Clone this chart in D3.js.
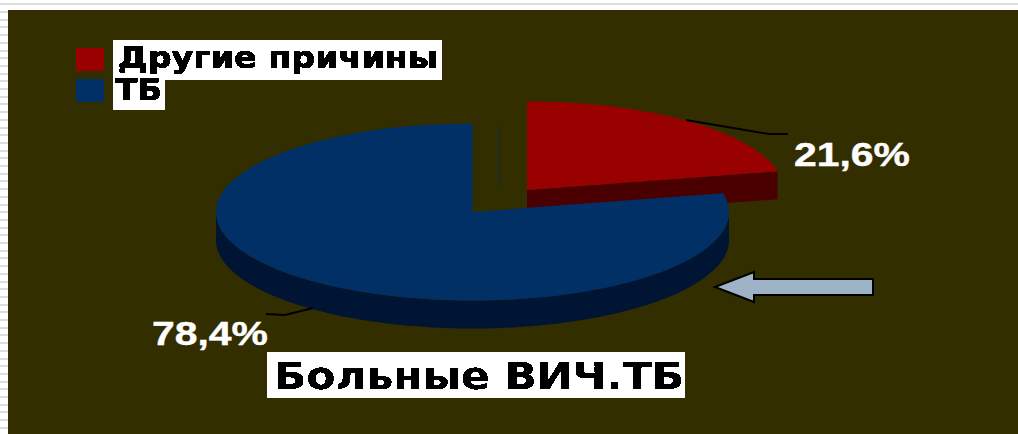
<!DOCTYPE html>
<html>
<head>
<meta charset="utf-8">
<script src="https://cdn.jsdelivr.net/npm/d3@7"></script>
<style>
html,body{margin:0;padding:0;background:#fff;}
svg{display:block;}
</style>
</head>
<body>
<svg id="chart" width="1018" height="434"></svg>
<script>
// Shares of deaths among HIV/TB patients
const categories = ["Другие причины", "ТБ"];
const shares = [21.6, 78.4];
const shareLabels = ["21,6%", "78,4%"];
const chartTitle = "Больные ВИЧ.ТБ";
const topColors = ["#990000", "#003066"];
const sideColors = ["#4a0000", "#001433"];

const svg = d3.select("#chart");
const W = 1018, H = 434;

// Slide frame: striped left margin and thin rule along the top
const defs = svg.append("defs");
const thresh = defs.append("filter").attr("id", "hard").attr("x", 0).attr("y", 0).attr("width", 1).attr("height", 1);
thresh.append("feComponentTransfer").append("feFuncA").attr("type", "discrete").attr("tableValues", "0 1 1");

svg.append("rect").attr("x", 0).attr("y", 3).attr("width", W).attr("height", 2).attr("fill", "#dddddd");
svg.selectAll("line.stripe").data(d3.range(12, H, 7.7)).join("line")
  .attr("class", "stripe").attr("x1", 0).attr("x2", 8)
  .attr("y1", d => Math.round(d)).attr("y2", d => Math.round(d))
  .attr("stroke", "#dddddd").attr("stroke-width", 2);
svg.append("rect").attr("x", 8).attr("y", 10).attr("width", W - 8).attr("height", H - 10).attr("fill", "#332e00");

// Pie geometry
const rx = 256.5, ry = 88.5, depth = 28;
const pie = d3.pie().sort(null).value(d => d)(shares);
const centers = [{x: 527, y: 190}, {x: 472.5, y: 212}];
const pt = (c, a, dy = 0) => [c.x + rx * Math.sin(a), c.y - ry * Math.cos(a) + dy];
const line = d3.line();

// Side walls, drawn before the top faces
const redArc = pie[0];
const c0 = centers[0], c1 = centers[1];
svg.append("path").attr("fill", sideColors[0]).attr("d", line([
  [c0.x, c0.y], pt(c0, redArc.endAngle), pt(c0, redArc.endAngle, depth), [c0.x, c0.y + depth]
]) + "Z");

// Rim of the large slice from the right extreme round to the left extreme
const rim = d3.range(Math.PI / 2, Math.PI * 1.5 + 1e-6, Math.PI / 120);
svg.append("path").attr("fill", sideColors[1]).attr("d", line(
  rim.map(a => pt(c1, a)).concat(rim.slice().reverse().map(a => pt(c1, a, depth)))
) + "Z");

const arc = d3.arc().innerRadius(0).outerRadius(rx);
svg.selectAll("path.top").data(pie).join("path")
  .attr("class", "top")
  .attr("fill", (d, i) => topColors[i])
  .attr("transform", (d, i) => `translate(${centers[i].x},${centers[i].y}) scale(1,${ry / rx})`)
  .attr("d", arc);

// Faint seam between the separated slices
svg.append("line").attr("x1", 499.5).attr("x2", 499.5).attr("y1", 126).attr("y2", 187)
  .attr("stroke", "#003344").attr("stroke-width", 1);

// Leader lines
const leaders = [
  [[686, 120], [769, 134], [788, 134]],
  [[313, 308], [285, 315], [266, 314]]
];
svg.selectAll("path.leader").data(leaders).join("path")
  .attr("class", "leader").attr("fill", "none").attr("stroke", "#000").attr("stroke-width", 2)
  .attr("d", line);

// Value labels
const labelPos = [[794, 166, 116], [152, 345, 116]];
svg.selectAll("text.value").data(shareLabels).join("text")
  .attr("class", "value")
  .attr("x", (d, i) => labelPos[i][0]).attr("y", (d, i) => labelPos[i][1])
  .attr("textLength", (d, i) => labelPos[i][2]).attr("lengthAdjust", "spacingAndGlyphs")
  .attr("font-family", "Liberation Sans").attr("font-weight", 700).attr("font-size", 33.5)
  .attr("fill", "#fff").attr("stroke", "#fff").attr("stroke-width", 0.4).text(d => d);

// Legend
const legendRows = [
  {box: [113, 40, 329, 40], sw: [76, 48, 28, 23], tx: 118, ty: 68, len: 320, size: 30},
  {box: [113, 71, 52, 39], sw: [76, 79, 28, 23], tx: 115, ty: 100, len: 47, size: 31}
];
legendRows.forEach(r => svg.append("rect").attr("x", r.box[0]).attr("y", r.box[1])
  .attr("width", r.box[2]).attr("height", r.box[3]).attr("fill", "#fff"));
legendRows.forEach((r, i) => {
  svg.append("rect").attr("x", r.sw[0]).attr("y", r.sw[1]).attr("width", r.sw[2]).attr("height", r.sw[3])
    .attr("fill", topColors[i]);
  svg.append("text").attr("x", r.tx).attr("y", r.ty)
    .attr("textLength", r.len).attr("lengthAdjust", "spacingAndGlyphs")
    .attr("font-family", "DejaVu Sans").attr("font-weight", 700).attr("font-size", r.size)
    .attr("filter", "url(#hard)")
    .attr("fill", "#000").attr("stroke", "#000").attr("stroke-width", 0.6).text(categories[i]);
});

// Chart caption in its white box
svg.append("rect").attr("x", 267).attr("y", 352).attr("width", 418).attr("height", 46).attr("fill", "#fff");
svg.append("text").attr("x", 274).attr("y", 389).attr("textLength", 410).attr("lengthAdjust", "spacingAndGlyphs")
  .attr("font-family", "DejaVu Sans").attr("font-weight", 700).attr("font-size", 38)
  .attr("filter", "url(#hard)")
  .attr("fill", "#000").text(chartTitle);

// Callout arrow pointing at the large slice
const arrow = [[715, 287], [754, 272], [754, 279], [873, 279], [873, 295], [754, 295], [754, 302]];
svg.append("path").attr("d", line(arrow) + "Z").attr("fill", "#9fb3c6").attr("stroke", "#000").attr("stroke-width", 2);
</script>
</body>
</html>
